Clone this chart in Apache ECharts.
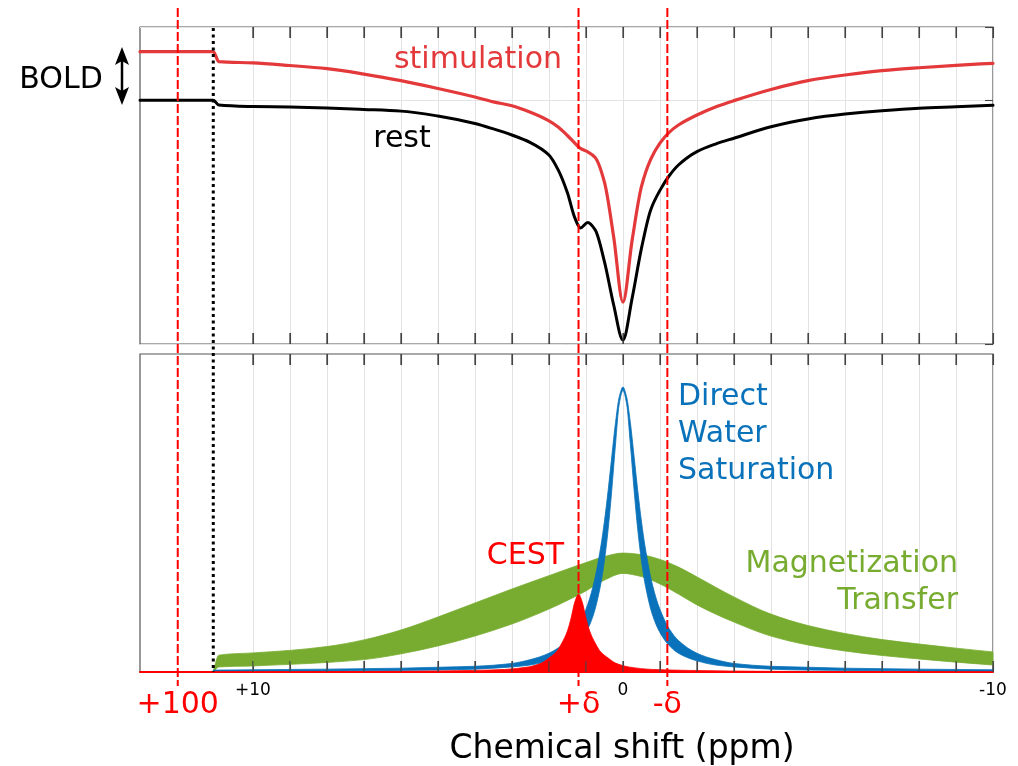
<!DOCTYPE html>
<html><head><meta charset="utf-8">
<script src="https://cdn.jsdelivr.net/npm/echarts@6/dist/echarts.min.js"></script>
<style>html,body{margin:0;padding:0;background:#fff}#c{width:1018px;height:766px}</style>
</head><body><div id="c"></div>
<script>
// ---------- DATA ----------
// Top panel: Z-spectra (normalised signal), x = chemical shift in ppm
const topPpm = [13.05, 11.07, 10.92, 10, 9, 8, 7, 6, 5, 4, 3.5, 3, 2.5, 2, 1.75, 1.5, 1.3, 1.15, 0.95, 0.75, 0.5, 0.25, 0, -0.25, -0.5, -0.75, -1, -1.25, -1.5, -2, -2.5, -3, -4, -5, -6, -7, -8, -9, -10];
const restSignal = [1.0, 1.0, 0.980, 0.974, 0.972, 0.968, 0.962, 0.955, 0.935, 0.904, 0.882, 0.857, 0.826, 0.775, 0.714, 0.620, 0.517, 0.476, 0.498, 0.468, 0.338, 0.160, 0.016, 0.189, 0.392, 0.550, 0.630, 0.690, 0.734, 0.789, 0.820, 0.844, 0.891, 0.923, 0.943, 0.957, 0.967, 0.973, 0.979];
const stimSignal = [1.199, 1.199, 1.158, 1.153, 1.142, 1.129, 1.107, 1.080, 1.048, 1.013, 0.993, 0.977, 0.950, 0.915, 0.890, 0.855, 0.824, 0.802, 0.788, 0.765, 0.664, 0.439, 0.172, 0.427, 0.645, 0.757, 0.824, 0.868, 0.898, 0.939, 0.972, 0.998, 1.044, 1.080, 1.103, 1.121, 1.133, 1.143, 1.151];

// Bottom panel: saturation contributions (bands = upper / lower edges)
const bluePpm = [11.07, 10, 8, 6, 5, 4, 3, 2.5, 2, 1.5, 1.25, 1, 0.8, 0.6, 0.5, 0.4, 0.3, 0.2, 0.1, 0, -0.1, -0.2, -0.3, -0.4, -0.5, -0.6, -0.8, -1, -1.25, -1.5, -2, -2.5, -3, -4, -5, -6, -8, -10];
const blueUpper = [0.006, 0.007, 0.009, 0.012, 0.015, 0.018, 0.027, 0.039, 0.059, 0.099, 0.136, 0.197, 0.273, 0.393, 0.474, 0.571, 0.679, 0.785, 0.865, 0.896, 0.865, 0.785, 0.679, 0.571, 0.474, 0.393, 0.273, 0.197, 0.136, 0.099, 0.059, 0.039, 0.027, 0.018, 0.015, 0.012, 0.009, 0.007];
const blueLower = [0.002, 0.002, 0.003, 0.005, 0.006, 0.009, 0.016, 0.022, 0.035, 0.059, 0.083, 0.124, 0.179, 0.276, 0.350, 0.448, 0.574, 0.717, 0.843, 0.885, 0.843, 0.717, 0.574, 0.448, 0.350, 0.276, 0.179, 0.124, 0.083, 0.059, 0.035, 0.022, 0.016, 0.009, 0.006, 0.005, 0.003, 0.002];

const greenPpm = [11.07, 10.92, 10, 9, 8, 7, 6, 5, 4, 3, 2, 1, 0.5, 0, -0.5, -1, -1.5, -2, -3, -4, -5, -6, -7, -8, -9, -10];
const greenUpper = [0.003, 0.053, 0.060, 0.068, 0.080, 0.101, 0.132, 0.173, 0.217, 0.261, 0.303, 0.344, 0.363, 0.374, 0.369, 0.354, 0.330, 0.299, 0.236, 0.182, 0.146, 0.121, 0.102, 0.088, 0.075, 0.063];
const greenLower = [0.0, 0.016, 0.019, 0.024, 0.030, 0.039, 0.057, 0.082, 0.113, 0.151, 0.198, 0.255, 0.289, 0.310, 0.300, 0.277, 0.245, 0.211, 0.157, 0.113, 0.085, 0.066, 0.052, 0.041, 0.031, 0.022];

const cestPpm = [13.05, 11.07, 8, 6, 4, 3.2, 2.55, 2.2, 2.0, 1.8, 1.65, 1.5, 1.4, 1.3, 1.2, 1.1, 1.0, 0.9, 0.75, 0.6, 0.4, 0.2, -0.15, -0.8, -1.8, -4, -7, -10];
const cestValue = [0.0003, 0.0006, 0.0012, 0.002, 0.005, 0.008, 0.016, 0.028, 0.044, 0.063, 0.091, 0.129, 0.170, 0.220, 0.245, 0.220, 0.170, 0.129, 0.091, 0.063, 0.044, 0.028, 0.016, 0.008, 0.005, 0.002, 0.0012, 0.0006];
const cestBase = [0, 0, 0, 0, 0, 0, 0, 0, 0, 0, 0, 0, 0, 0, 0, 0, 0, 0, 0, 0, 0, 0, 0, 0, 0, 0, 0, 0];

// axis
const tickPpm = [10, 9, 8, 7, 6, 5, 4, 3, 2, 1, 0, -1, -2, -3, -4, -5, -6, -7, -8, -9, -10];
const labelPpm = [10, 0, -10];
const axisBreakPpm = 11.07;          // dotted line: axis break
const markerPpm = [12.03, 1.2, -1.2];
const markerText = ['+100', '+\u03b4', '-\u03b4'];
// ---------------------------------------------------

const FONT = '"DejaVu Sans", "Noto Sans", sans-serif';
const C_STIM = '#e4393b', C_RED = '#ff0000', C_BLUE = '#0a72ba', C_GREEN = '#77ac30';
const X_MIN = -10, X_MAX = 13.05;
const TOP_Y = [0, 1.3], BOT_Y = [0, 1];

// shape-preserving cubic (PCHIP) through pixel points, as bezier segments
function pchipSegs(pts) {
  const n = pts.length, h = [], d = [], m = new Array(n).fill(0), segs = [];
  for (let i = 0; i < n - 1; i++) { h[i] = pts[i + 1][0] - pts[i][0]; d[i] = h[i] === 0 ? 0 : (pts[i + 1][1] - pts[i][1]) / h[i]; }
  m[0] = d[0]; m[n - 1] = d[n - 2];
  for (let i = 1; i < n - 1; i++) {
    if (d[i - 1] * d[i] <= 0) { m[i] = 0; continue; }
    const w1 = 2 * h[i] + h[i - 1], w2 = h[i] + 2 * h[i - 1];
    m[i] = (w1 + w2) / (w1 / d[i - 1] + w2 / d[i]);
  }
  for (let i = 0; i < n - 1; i++) {
    const [x0, y0] = pts[i], [x1, y1] = pts[i + 1], k = h[i] / 3;
    segs.push([[x0, y0], [x0 + k, y0 + m[i] * k], [x1 - k, y1 - m[i + 1] * k], [x1, y1]]);
  }
  return segs;
}
function segPath(segs, move) {
  let s = (move ? 'M' : 'L') + segs[0][0][0] + ' ' + segs[0][0][1];
  segs.forEach(g => { s += 'C' + g[1][0] + ' ' + g[1][1] + ' ' + g[2][0] + ' ' + g[2][1] + ' ' + g[3][0] + ' ' + g[3][1]; });
  return s;
}
function reverseSegs(segs) { return segs.slice().reverse().map(g => [g[3], g[2], g[1], g[0]]); }

function curve(name, ppm, vals, color, width) {
  return {
    type: 'custom', name, xAxisIndex: 0, yAxisIndex: 0, data: [[0, 0]], silent: true, z: 3,
    renderItem: function (params, api) {
      const pts = ppm.map((p, i) => api.coord([p, vals[i]]));
      return { type: 'path', shape: { pathData: segPath(pchipSegs(pts), true) },
        style: { fill: 'none', stroke: color, lineWidth: width, lineJoin: 'round', lineCap: 'round' } };
    }
  };
}
function band(name, ppm, upper, lower, color) {
  return {
    type: 'custom', name, xAxisIndex: 2, yAxisIndex: 2, data: [[0, 0]], silent: true, z: 2,
    renderItem: function (params, api) {
      const up = ppm.map((p, i) => api.coord([p, upper[i]]));
      const lo = ppm.map((p, i) => api.coord([p, lower[i]]));
      const d = segPath(pchipSegs(up), true) + segPath(reverseSegs(pchipSegs(lo)), false) + 'Z';
      return { type: 'path', shape: { pathData: d }, style: { fill: color, stroke: color, lineWidth: 0.8 } };
    }
  };
}
// inward tick marks on the top and bottom frame edges of a panel
function frameTicks(xi, yi, yr) {
  return {
    type: 'custom', xAxisIndex: xi, yAxisIndex: yi, silent: true, z: 6, clip: false,
    data: tickPpm.map(p => [p, yr[0]]),
    renderItem: function (params, api) {
      const p = api.value(0);
      const b = api.coord([p, yr[0]]), t = api.coord([p, yr[1]]);
      const st = { stroke: '#444', lineWidth: 1.1 };
      return { type: 'group', children: [
        { type: 'line', shape: { x1: b[0], y1: b[1], x2: b[0], y2: b[1] - 11 }, style: st },
        { type: 'line', shape: { x1: t[0], y1: t[1], x2: t[0], y2: t[1] + 11 }, style: st }
      ] };
    }
  };
}

function xAxisDef(gridIndex, position, opts) {
  return Object.assign({
    type: 'value', gridIndex, position, min: X_MIN, max: X_MAX, inverse: true,
    axisLine: { show: false, onZero: false },
    axisTick: { show: true, inside: true, length: 11, customValues: tickPpm, lineStyle: { color: '#444', width: 1.1 } },
    axisLabel: { show: false },
    splitLine: { show: false }
  }, opts || {});
}

const chart = echarts.init(document.getElementById('c'), null, { renderer: 'canvas' });
chart.setOption({
  animation: false,
  backgroundColor: '#fff',
  grid: [
    { left: 140, top: 27, width: 853, height: 317, show: true, borderColor: '#555', borderWidth: 1.2 },
    { left: 140, top: 354, width: 853, height: 318, show: true, borderColor: '#555', borderWidth: 1.2 }
  ],
  xAxis: [
    xAxisDef(0, 'bottom', { splitLine: { show: true, lineStyle: { color: '#e3e3e3', width: 1 } } }),
    xAxisDef(0, 'top'),
    xAxisDef(1, 'bottom', {
      splitLine: { show: true, lineStyle: { color: '#e3e3e3', width: 1 } },
      axisLine: { show: true, onZero: false, lineStyle: { color: C_RED, width: 2 } },
      axisLabel: { show: true, customValues: labelPpm, margin: 10, color: '#000', fontSize: 17, fontFamily: FONT,
        formatter: v => (v > 0 ? '+' + v : String(v)) }
    }),
    xAxisDef(1, 'top')
  ],
  yAxis: [
    { type: 'value', gridIndex: 0, min: TOP_Y[0], max: TOP_Y[1], interval: 1, axisLine: { show: false, onZero: false }, axisTick: { show: false }, axisLabel: { show: false },
      splitLine: { show: true, lineStyle: { color: '#e3e3e3', width: 1 } } },
    { type: 'value', gridIndex: 0, position: 'right', min: TOP_Y[0], max: TOP_Y[1], interval: 1, axisLine: { show: false, onZero: false },
      axisTick: { show: true, inside: true, length: 8, lineStyle: { color: '#444', width: 1.1 } }, axisLabel: { show: false }, splitLine: { show: false } },
    { type: 'value', gridIndex: 1, min: BOT_Y[0], max: BOT_Y[1], axisLine: { show: false, onZero: false }, axisTick: { show: false }, axisLabel: { show: false }, splitLine: { show: false } }
  ],
  series: [
    curve('rest', topPpm, restSignal, '#000', 3),
    curve('stimulation', topPpm, stimSignal, C_STIM, 3.2),
    band('Magnetization Transfer', greenPpm, greenUpper, greenLower, C_GREEN),
    band('Direct Water Saturation', bluePpm, blueUpper, blueLower, C_BLUE),
    band('CEST', cestPpm, cestValue, cestBase, C_RED),
    frameTicks(0, 0, TOP_Y),
    frameTicks(2, 2, BOT_Y)
  ]
});

// ---------- annotations placed through the axis scale ----------
function px(ppm) { return chart.convertToPixel({ xAxisIndex: 2 }, ppm); }
function txt(text, x, y, color, size, align) {
  return { type: 'text', z: 200, silent: true,
    style: { text, x, y, fill: color, font: 'normal ' + size + 'px ' + FONT,
      align: align || 'left', verticalAlign: 'middle', textAlign: align || 'left', textVerticalAlign: 'middle' } };
}
const g = [];
markerPpm.forEach((p, i) => {
  const x = px(p);
  g.push({ type: 'line', z: 150, silent: true, shape: { x1: x, y1: 8, x2: x, y2: 686 },
    style: { stroke: C_RED, lineWidth: 2, lineDash: [9, 3] } });
  g.push(txt(markerText[i], x, 705, C_RED, 30, 'center'));
});
const xb = px(axisBreakPpm);
g.push({ type: 'line', z: 150, silent: true, shape: { x1: xb, y1: 28, x2: xb, y2: 672 },
  style: { stroke: '#000', lineWidth: 3, lineDash: [3, 3.5] } });

g.push(txt('stimulation', 478, 60, C_STIM, 30, 'center'));
g.push(txt('rest', 402, 139.5, '#000', 30, 'center'));
g.push(txt('BOLD', 61, 80.5, '#000', 30, 'center'));
// double arrow next to BOLD
g.push({ type: 'line', z: 150, silent: true, shape: { x1: 122, y1: 60, x2: 122, y2: 93 }, style: { stroke: '#000', lineWidth: 2.5 } });
g.push({ type: 'polygon', z: 150, silent: true, shape: { points: [[122, 47], [129, 65], [122, 61], [115, 65]] }, style: { fill: '#000' } });
g.push({ type: 'polygon', z: 150, silent: true, shape: { points: [[122, 105], [129, 87], [122, 91], [115, 87]] }, style: { fill: '#000' } });

g.push(txt('Direct', 678, 397.5, C_BLUE, 30, 'left'));
g.push(txt('Water', 678, 434.5, C_BLUE, 30, 'left'));
g.push(txt('Saturation', 678, 471, C_BLUE, 30, 'left'));
g.push(txt('CEST', 564, 556, C_RED, 30, 'right'));
g.push(txt('Magnetization', 958, 564, C_GREEN, 30, 'right'));
g.push(txt('Transfer', 958, 601, C_GREEN, 30, 'right'));
g.push(txt('Chemical shift (ppm)', 622, 749, '#000', 33, 'center'));

chart.setOption({ graphic: { elements: g } });
</script>
</body></html>
